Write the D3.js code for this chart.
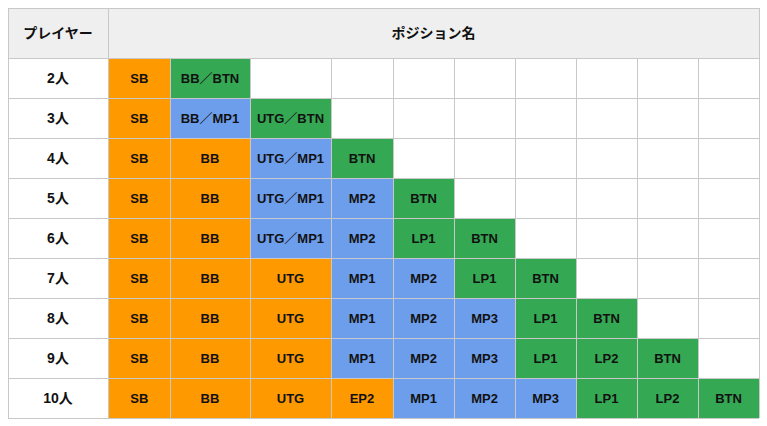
<!DOCTYPE html>
<html><head><meta charset="utf-8">
<script src="https://cdn.jsdelivr.net/npm/d3@7"></script>
<style>body{margin:0;background:#fff;font-family:Arial,"Liberation Sans","Noto Sans CJK JP",sans-serif;}</style>
</head><body><svg id="c" width="767" height="426"></svg>
<script>
const players = ["2人","3人","4人","5人","6人","7人","8人","9人","10人"];
const positions = [
  ["SB","BB／BTN"],
  ["SB","BB／MP1","UTG／BTN"],
  ["SB","BB","UTG／MP1","BTN"],
  ["SB","BB","UTG／MP1","MP2","BTN"],
  ["SB","BB","UTG／MP1","MP2","LP1","BTN"],
  ["SB","BB","UTG","MP1","MP2","LP1","BTN"],
  ["SB","BB","UTG","MP1","MP2","MP3","LP1","BTN"],
  ["SB","BB","UTG","MP1","MP2","MP3","LP1","LP2","BTN"],
  ["SB","BB","UTG","EP2","MP1","MP2","MP3","LP1","LP2","BTN"]
];
// o = blinds/early, b = middle, g = late
const groups = [
  "og","obg","oobg","oobbg","oobbgg","ooobbgg","ooobbbgg","ooobbbggg","oooobbbggg"
];
const colColors = {o:"#ff9900", b:"#6d9eeb", g:"#34a853"};
const colEdges = [8,108.5,170,250,331,393,454,515,576,637,698,759];

const svg = d3.select("#c");
const y = d3.scaleBand().domain(["h", ...players]).range([8,418]).paddingInner(0);
// header row taller
const rowTop = i => i < 0 ? 8 : 58 + i*40;
const rowH = i => i < 0 ? 50 : 40;

const g = svg.append("g");
g.append("rect").attr("x",8).attr("y",8).attr("width",751).attr("height",50).attr("fill","#efefef");
players.forEach((p,i)=>{
  g.append("rect").attr("x",8).attr("y",rowTop(i)).attr("width",100.5).attr("height",40).attr("fill","#fff");
  for (let c=0;c<10;c++){
    const k = groups[i][c];
    g.append("rect").attr("x",colEdges[c+1]).attr("y",rowTop(i))
      .attr("width",colEdges[c+2]-colEdges[c+1]).attr("height",40)
      .attr("fill", k ? colColors[k] : "#fff");
  }
});
// grid
const grid = svg.append("g").attr("stroke","#c8c8c8").attr("stroke-width",1).attr("shape-rendering","crispEdges");
for (let i=-1;i<=players.length;i++){
  const yy = i<0 ? 8 : rowTop(i);
  grid.append("line").attr("x1",8).attr("x2",759).attr("y1",yy).attr("y2",yy);
}
colEdges.forEach((x,j)=>{
  grid.append("line").attr("x1",x).attr("x2",x).attr("y1", (j===0||j===1||j===colEdges.length-1)?8:58).attr("y2",418);
});
// text
const t = svg.append("g").attr("font-size",13).attr("font-weight","bold").attr("fill","#111").attr("text-anchor","middle");
t.append("text").attr("x",58).attr("y",38).attr("font-size",14).text("プレイヤー");
t.append("text").attr("x",433.5).attr("y",38).attr("font-size",14).text("ポジション名");
players.forEach((p,i)=>{
  t.append("text").attr("x",58).attr("y",rowTop(i)+25).attr("font-size",14).text(p);
  positions[i].forEach((s,c)=>{
    t.append("text").attr("x",(colEdges[c+1]+colEdges[c+2])/2).attr("y",rowTop(i)+25).text(s);
  });
});
</script></body></html>
